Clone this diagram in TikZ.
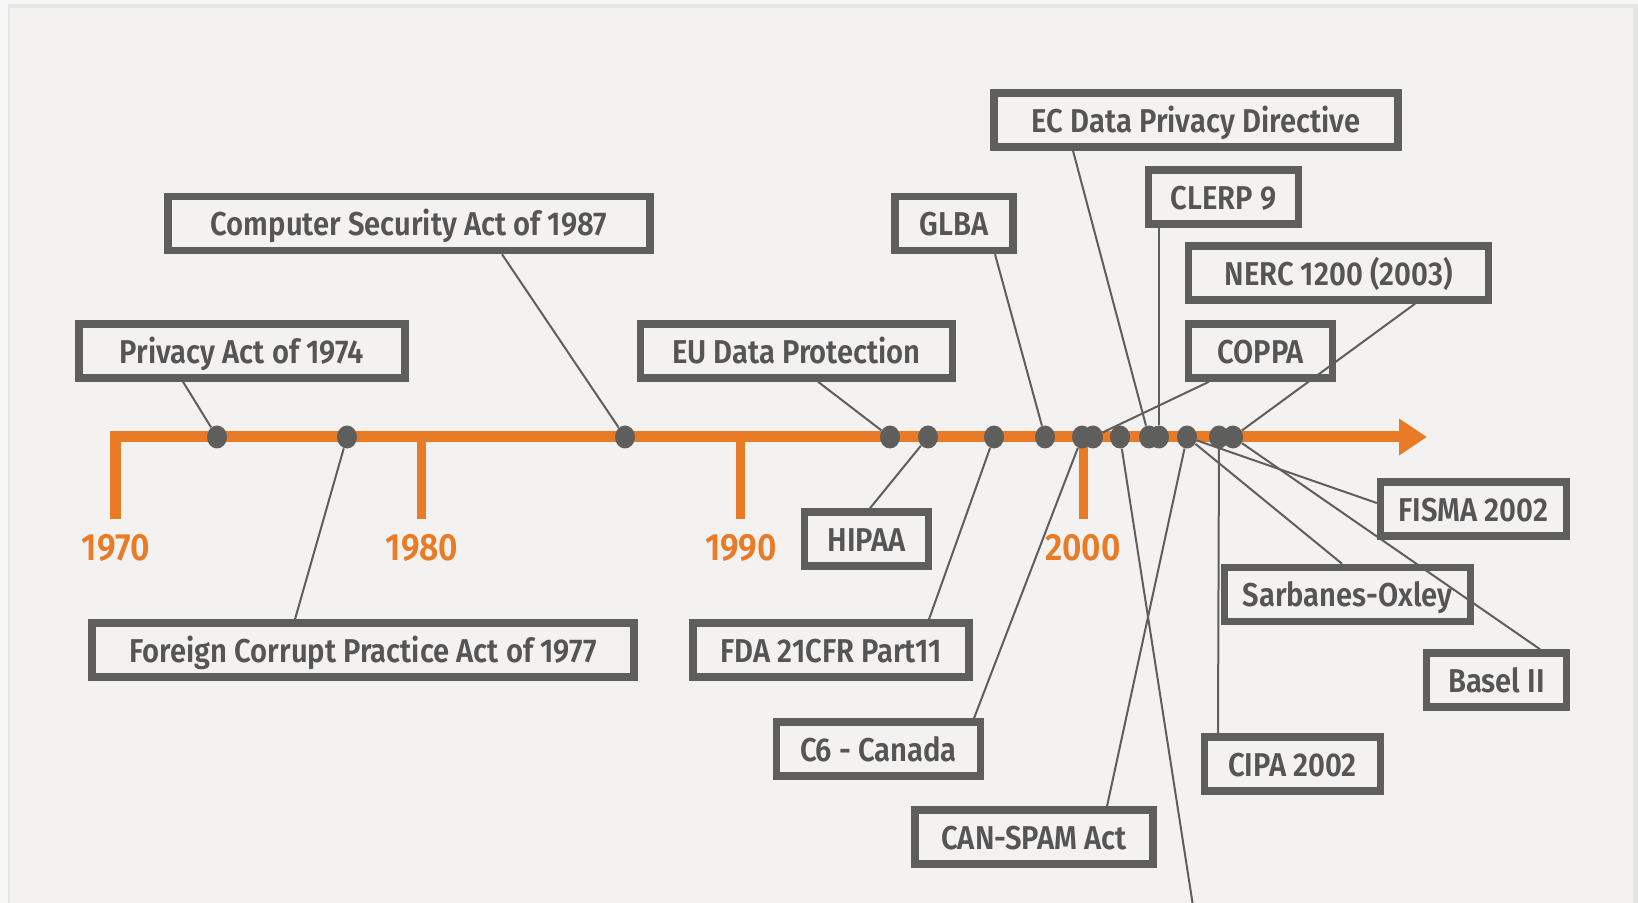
\documentclass[tikz,border=0pt]{standalone}
\usepackage{fontspec}
\setmainfont{Fira Sans}[UprightFont=* SemiBold,FakeStretch=0.885]
\usetikzlibrary{arrows.meta,shapes.geometric}

\definecolor{orng}{HTML}{E97B26}
\definecolor{slate}{HTML}{5E5E5C}
\definecolor{ink}{HTML}{555555}
\definecolor{paper}{HTML}{F3F2F0}
\definecolor{rim}{HTML}{E4E4E2}

\tikzset{
  lawbox/.style={draw=slate,line width=3.75pt,text=ink,font=\fontsize{16.5}{18}\selectfont,minimum height=27pt,inner sep=0pt,text height=12.4pt,text depth=0pt},
  lawdot/.style={ellipse,fill=slate,minimum width=10pt,minimum height=11.5pt,inner sep=0pt},
  leader/.style={draw=slate,line width=1pt},
  yeartick/.style={draw=orng,line width=4.5pt},
  yearlabel/.style={text=orng,font=\fontsize{19}{21}\selectfont,inner sep=0pt}
}

\begin{document}
\begin{tikzpicture}[x=0.5pt,y=-0.5pt]

\useasboundingbox (0,0) rectangle (1638,903);
\fill[white!97!black] (0,0) rectangle (1638,903);
\fill[rim] (8,4) rectangle (1638,903);
\fill[paper] (10,8) rectangle (1633,903);

% time axis
\draw[draw=orng,line width=5.5pt,-{Triangle[length=14pt,width=17.5pt]}] (115,519) -- (115,437) -- (1427,437);
\draw[yeartick] (421,437) -- (421,519);
\draw[yeartick] (740,437) -- (740,519);
\draw[yeartick] (1083,437) -- (1083,519);
\node[yearlabel] (y1970) at (116,548) {1970};
\node[yearlabel] (y1980) at (422,548) {1980};
\node[yearlabel] (y1990) at (741,548) {1990};
\node[yearlabel] (y2000) at (1083,548) {2000};

% events on the axis
\node[lawdot] (d1) at (217,437) {};
\node[lawdot] (d2) at (347,437) {};
\node[lawdot] (d3) at (625,437) {};
\node[lawdot] (d4) at (890,437) {};
\node[lawdot] (d5) at (928,437) {};
\node[lawdot] (d6) at (994,437) {};
\node[lawdot] (d7) at (1045,437) {};
\node[lawdot] (d8) at (1082,437) {};
\node[lawdot] (d9) at (1093,437) {};
\node[lawdot] (d10) at (1120,437) {};
\node[lawdot] (d11) at (1149,437) {};
\node[lawdot] (d12) at (1159,437) {};
\node[lawdot] (d13) at (1187,437) {};
\node[lawdot] (d14) at (1219,437) {};
\node[lawdot] (d15) at (1233,437) {};

% labels above
\node[lawbox,minimum width=163pt] (privacy) at (242,351) {Privacy Act of 1974};
\node[lawbox,minimum width=241pt] (compsec) at (409,223.5) {Computer Security Act of 1987};
\node[lawbox,minimum width=156pt] (eudata) at (796.5,351) {EU Data Protection};
\node[lawbox,minimum width=59pt] (glba) at (954,223.5) {GLBA};
\node[lawbox,minimum width=202pt] (ecdir) at (1196,120) {EC Data Privacy Directive};
\node[lawbox,minimum width=75pt] (clerp) at (1223.5,197) {CLERP 9};
\node[lawbox,minimum width=150pt] (nerc) at (1338.5,273) {NERC 1200 (2003)};
\node[lawbox,minimum width=72pt] (coppa) at (1260.5,351) {COPPA};

% labels below
\node[lawbox,minimum width=62pt] (hipaa) at (866.5,539) {HIPAA};
\node[lawbox,minimum width=271pt] (fcpa) at (363,650) {Foreign Corrupt Practice Act of 1977};
\node[lawbox,minimum width=138pt] (fda) at (831,650) {FDA 21CFR Part11};
\node[lawbox,minimum width=102pt] (cansix) at (878.5,749) {C6 - Canada};
\node[lawbox,minimum width=119pt] (canspam) at (1034,837) {CAN-SPAM Act};
\node[lawbox,minimum width=93pt] (fisma) at (1473.5,509) {FISMA 2002};
\node[lawbox,minimum width=123pt] (sox) at (1347.5,594.5) {Sarbanes-Oxley};
\node[lawbox,minimum width=70pt] (basel) at (1496.5,680) {Basel II};
\node[lawbox,minimum width=88pt] (cipa) at (1292.5,764) {CIPA 2002};
\coordinate (cut) at (1193,906);

% leaders
\draw[leader] ([xshift=-29.5pt]privacy.south) -- (d1);
\draw[leader] ([xshift=-34pt]fcpa.north) -- (d2);
\draw[leader] ([xshift=46.5pt]compsec.south) -- (d3);
\draw[leader] ([xshift=10.75pt]eudata.south) -- (d4);
\draw[leader] ([xshift=1.75pt]hipaa.north) -- (d5);
\draw[leader] ([xshift=49pt]fda.north) -- (d6);
\draw[leader] ([xshift=20.5pt]glba.south) -- (d7);
\draw[leader] ([xshift=47.75pt]cansix.north) -- (d8);
\draw[leader] ([xshift=-25.75pt]coppa.south) -- (d9);
\draw[leader] (cut) -- (d10);
\draw[leader] ([xshift=-61.5pt]ecdir.south) -- (d11);
\draw[leader] ([xshift=-32.25pt]clerp.south) -- (d12);
\draw[leader] ([xshift=36.5pt]canspam.north) -- (d13);
\draw[leader] ([xshift=-2.75pt]sox.north) -- (d13);
\draw[leader] ([yshift=3pt]fisma.west) -- (d13);
\draw[leader] ([xshift=-37.25pt]cipa.north) -- (d14);
\draw[leader] ([xshift=38.25pt]nerc.south) -- (d15);
\draw[leader] ([xshift=21.75pt]basel.north) -- (d15);

\end{tikzpicture}
\end{document}
